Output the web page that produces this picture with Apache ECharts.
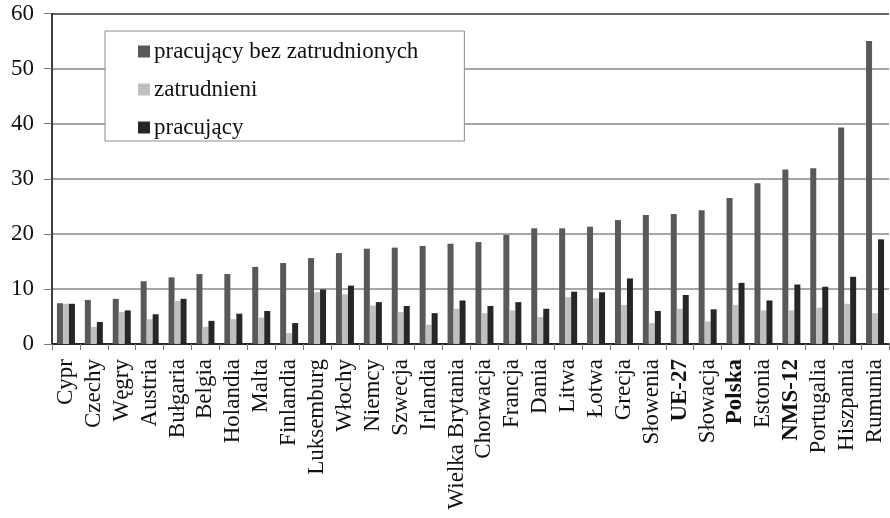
<!DOCTYPE html>
<html>
<head>
<meta charset="utf-8">
<script src="https://cdn.jsdelivr.net/npm/echarts@6/dist/echarts.min.js"></script>
<style>
  html, body { margin: 0; padding: 0; background: #fff; }
  #main { width: 890px; height: 518px; }
</style>
</head>
<body>
<div id="main"></div>
<script>
// kraje (kategorie osi X)
const countries = ['Cypr', 'Czechy', 'Węgry', 'Austria', 'Bułgaria', 'Belgia', 'Holandia', 'Malta',
  'Finlandia', 'Luksemburg', 'Włochy', 'Niemcy', 'Szwecja', 'Irlandia', 'Wielka Brytania', 'Chorwacja',
  'Francja', 'Dania', 'Litwa', 'Łotwa', 'Grecja', 'Słowenia', 'UE-27', 'Słowacja', 'Polska', 'Estonia',
  'NMS-12', 'Portugalia', 'Hiszpania', 'Rumunia'];
// wartości
const bezZatrudnionych = [7.4, 8.0, 8.2, 11.4, 12.1, 12.7, 12.7, 14.0, 14.7, 15.6, 16.5, 17.3, 17.5, 17.8,
  18.2, 18.5, 19.8, 21.0, 21.0, 21.3, 22.5, 23.4, 23.6, 24.3, 26.5, 29.2, 31.7, 31.9, 39.3, 55.0];
const zatrudnieni = [7.3, 3.1, 5.8, 4.5, 7.8, 3.1, 4.5, 4.8, 2.0, 9.4, 9.0, 7.0, 5.8, 3.5,
  6.4, 5.6, 6.1, 4.9, 8.5, 8.3, 7.1, 3.8, 6.4, 4.1, 7.1, 6.1, 6.1, 6.6, 7.3, 5.6];
const pracujacy = [7.3, 4.0, 6.1, 5.4, 8.2, 4.2, 5.5, 6.0, 3.8, 9.9, 10.6, 7.6, 6.9, 5.6,
  7.9, 6.9, 7.6, 6.4, 9.5, 9.4, 11.9, 6.0, 8.9, 6.3, 11.1, 7.9, 10.8, 10.4, 12.2, 19.0];
const boldLabels = ['UE-27', 'Polska', 'NMS-12'];
</script>
<script>
const serif = '"Liberation Serif", "DejaVu Serif", serif';
const myChart = echarts.init(document.getElementById('main'));

const option = {
  backgroundColor: '#fff',
  animation: false,
  color: ['#595959', '#bfbfbf', '#262626'],
  grid: { left: 52, right: 1, top: 13.5, bottom: 174, containLabel: false },
  legend: {
    orient: 'vertical',
    left: 105,
    top: 31,
    padding: [9, 46, 2, 33],
    backgroundColor: '#fff',
    borderColor: '#8c8c8c',
    borderWidth: 1,
    itemWidth: 12,
    itemHeight: 12,
    itemGap: 15,
    icon: 'rect',
    textStyle: { fontFamily: serif, fontSize: 23, color: '#111', lineHeight: 23, padding: [0, 0, 0, -1] },
    data: ['pracujący bez zatrudnionych', 'zatrudnieni', 'pracujący']
  },
  xAxis: {
    type: 'category',
    data: countries,
    axisLine: { lineStyle: { color: '#000', width: 1.5 } },
    axisTick: { show: true, length: 6, lineStyle: { color: '#777' } },
    axisLabel: {
      rotate: 90,
      interval: 0,
      margin: 15,
      fontFamily: serif,
      fontSize: 23,
      color: '#111',
      formatter: function (value) {
        return boldLabels.indexOf(value) >= 0 ? '{b|' + value + '}' : value;
      },
      rich: { b: { fontFamily: serif, fontSize: 23, fontWeight: 'bold', color: '#111' } }
    }
  },
  yAxis: {
    type: 'value',
    min: 0,
    max: 60,
    interval: 10,
    axisLine: { show: true, lineStyle: { color: '#000', width: 1.5 } },
    axisTick: { show: true, length: 8, lineStyle: { color: '#777' } },
    axisLabel: { margin: 18, fontFamily: serif, fontSize: 23, color: '#111' },
    splitLine: {
      lineStyle: { color: ['#888', '#888', '#888', '#888', '#888', '#888', '#333'], width: 1.5 }
    }
  },
  series: [
    { name: 'pracujący bez zatrudnionych', type: 'bar', barWidth: 6, barGap: '0%', data: bezZatrudnionych },
    { name: 'zatrudnieni', type: 'bar', barWidth: 6, barGap: '0%', data: zatrudnieni },
    { name: 'pracujący', type: 'bar', barWidth: 6, barGap: '0%', data: pracujacy }
  ]
};

myChart.setOption(option);
</script>
</body>
</html>
